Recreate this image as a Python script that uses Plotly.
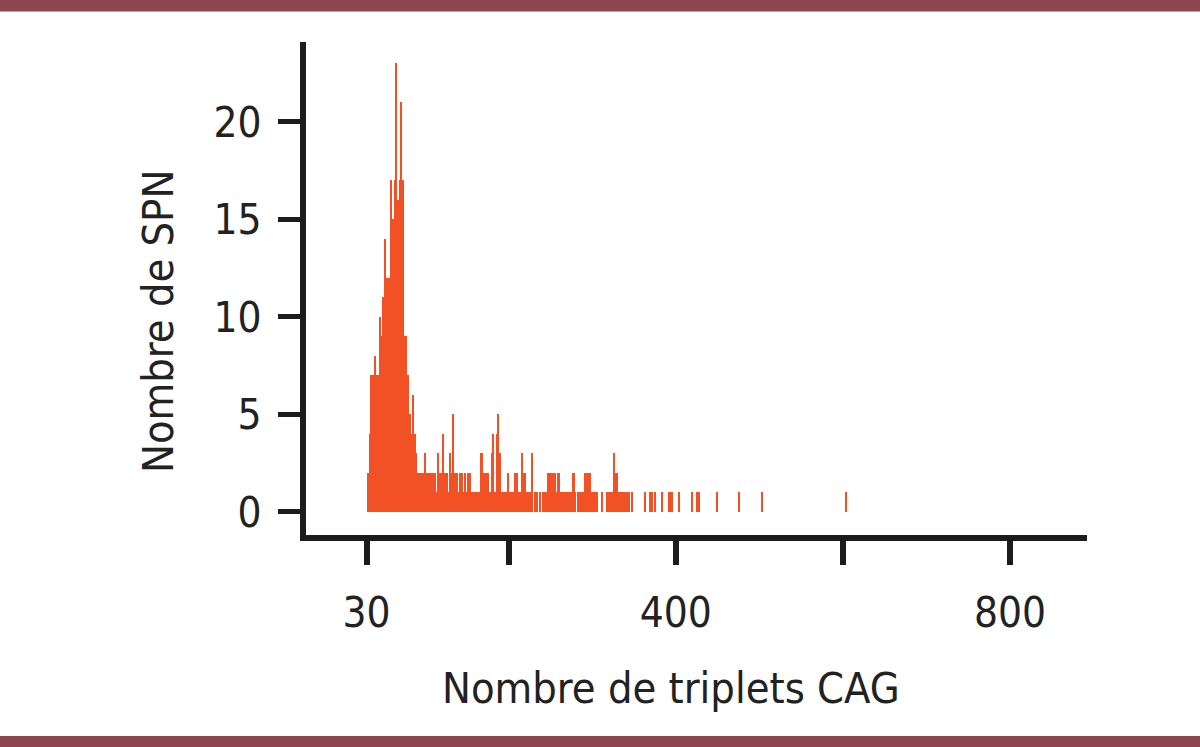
import plotly.graph_objects as go

# Data: CAG repeat count (bin centre, bins of width 2) and number of SPN
cag = [32, 34, 36, 38, 40, 42, 44, 46, 48, 50, 52, 54, 56, 58, 60, 62, 64, 66, 68, 70,
       72, 74, 76, 78, 80, 82, 84, 86, 88, 90, 92, 94, 96, 98, 100, 102, 104, 106, 108, 110,
       112, 114, 116, 118, 120, 122, 124, 126, 128, 130, 132, 134, 136, 138, 140, 142, 144, 146, 148, 150,
       152, 154, 156, 158, 160, 162, 164, 166, 168, 170, 172, 174, 176, 178, 180, 182, 184, 186, 188, 190,
       192, 194, 196, 198, 200, 202, 204, 206, 208, 210, 212, 214, 216, 218, 220, 222, 224, 226, 228, 232,
       234, 238, 242, 244, 246, 248, 250, 252, 254, 256, 258, 260, 262, 264, 266, 268, 270, 272, 274, 276,
       278, 280, 284, 286, 288, 290, 292, 294, 296, 298, 300, 302, 304, 306, 312, 318, 320, 322, 324, 326,
       328, 330, 332, 334, 336, 338, 340, 342, 344, 348, 364, 370, 372, 376, 384, 392, 394, 396, 404, 420,
       426, 428, 450, 476, 504, 604]
spn = [2, 4, 7, 7, 8, 7, 7, 10, 9, 11, 14, 12, 12, 12, 17, 15, 17, 23, 16, 17,
       21, 17, 9, 9, 7, 5, 4, 6, 4, 3, 2, 2, 2, 2, 3, 2, 2, 2, 2, 2,
       2, 1, 3, 2, 2, 4, 2, 2, 1, 3, 2, 5, 2, 2, 1, 2, 2, 1, 2, 1,
       2, 2, 1, 1, 1, 1, 1, 1, 3, 2, 2, 2, 2, 1, 3, 4, 1, 4, 5, 3,
       1, 1, 1, 1, 2, 1, 1, 1, 2, 2, 1, 1, 3, 2, 2, 1, 1, 1, 3, 1,
       1, 1, 1, 1, 1, 2, 2, 2, 2, 2, 1, 2, 1, 1, 1, 1, 1, 1, 1, 1,
       2, 1, 1, 1, 1, 1, 2, 2, 2, 2, 1, 1, 1, 1, 1, 1, 1, 1, 1, 3,
       2, 2, 1, 1, 1, 1, 1, 1, 1, 1, 1, 1, 1, 1, 1, 1, 1, 1, 1, 1,
       1, 1, 1, 1, 1, 1]

x_tick_vals = [30, 200, 400, 600, 800]
x_tick_text = ["30", "", "400", "", "800"]
y_tick_vals = [0, 5, 10, 15, 20]
x_title = "Nombre de triplets CAG"
y_title = "Nombre de SPN"

FONT = "DejaVu Sans Condensed, DejaVu Sans, sans-serif"
TXT = "#222222"
AXIS = "#1c1c1c"
BAND = "#8c4750"

fig = go.Figure(go.Bar(x=cag, y=spn, width=2, marker=dict(color="#f15125", line=dict(width=0))))

fig.update_layout(
    width=1200, height=747,
    paper_bgcolor="white", plot_bgcolor="white",
    margin=dict(l=306, r=113, t=42, b=212),
    bargap=0, showlegend=False,
    font=dict(family=FONT, color=TXT, size=42),
    shapes=[
        dict(type="rect", xref="paper", yref="paper", x0=-0.40, x1=1.16,
             y0=(535 - 11.5) / 493, y1=1.1, fillcolor=BAND, line=dict(width=0), layer="above"),
        dict(type="rect", xref="paper", yref="paper", x0=-0.40, x1=1.16,
             y0=-0.45, y1=(535 - 736) / 493, fillcolor=BAND, line=dict(width=0), layer="above"),
    ],
    annotations=[
        dict(text=x_title, xref="paper", yref="paper", x=(671 - 306) / 781, y=(535 - 688) / 493,
             xanchor="center", yanchor="middle", showarrow=False,
             font=dict(size=43, family=FONT, color=TXT)),
        dict(text=y_title, xref="paper", yref="paper", x=(158 - 306) / 781, y=(535 - 322) / 493,
             xanchor="center", yanchor="middle", showarrow=False, textangle=-90,
             font=dict(size=43, family=FONT, color=TXT)),
    ],
)
fig.update_xaxes(
    range=[-42.4, 892.2], showgrid=False, zeroline=False,
    showline=True, linecolor=AXIS, linewidth=6,
    ticks="outside", ticklen=24, tickwidth=6, tickcolor=AXIS,
    tickvals=x_tick_vals, ticktext=x_tick_text, ticklabelstandoff=12,
    tickfont=dict(size=42, family=FONT, color=TXT),
)
fig.update_yaxes(
    range=[-1.18, 24.1], showgrid=False, zeroline=False,
    showline=True, linecolor=AXIS, linewidth=6,
    ticks="outside", ticklen=22, tickwidth=5, tickcolor=AXIS,
    tickvals=y_tick_vals, ticklabelstandoff=8,
    tickfont=dict(size=42, family=FONT, color=TXT),
)

fig.write_html("out.html", config={"displayModeBar": False},
               post_script="document.body.style.margin='0';document.body.style.padding='0';")
